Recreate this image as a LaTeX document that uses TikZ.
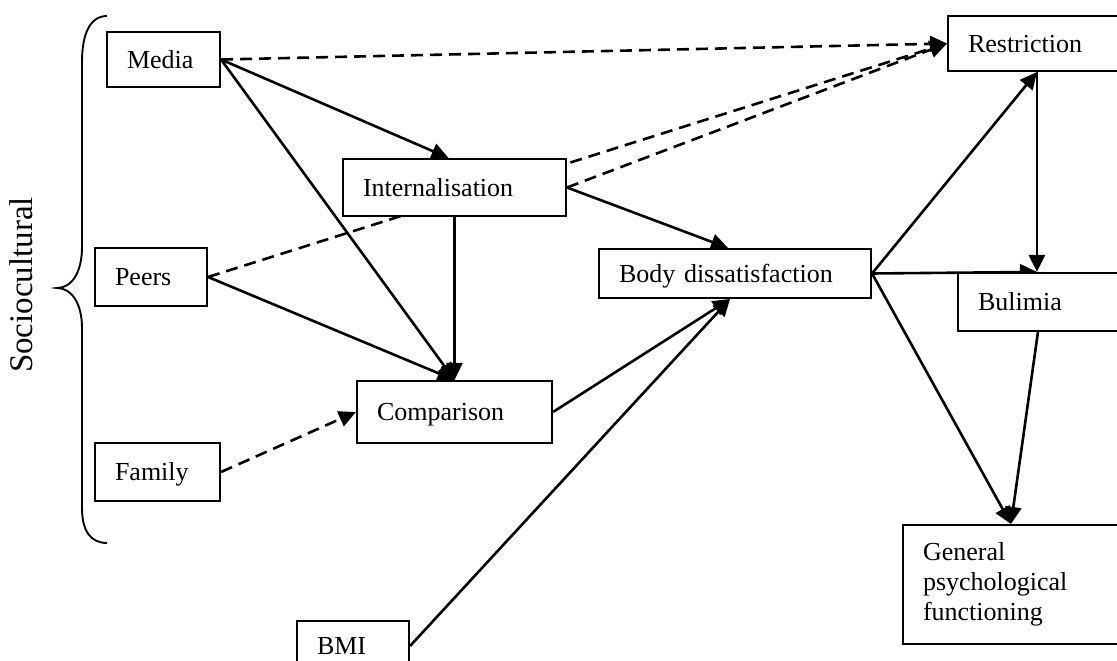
\documentclass[tikz,border=0pt]{standalone}
\usepackage{fontspec}
\setmainfont{Liberation Serif}
\usetikzlibrary{arrows.meta,backgrounds}
\begin{document}
\begin{tikzpicture}[x=1pt,y=-1pt,
  boxbase/.style={draw, line width=2.1pt, fill=white, rectangle, inner xsep=20pt, inner ysep=0pt, align=left, font=\fontsize{26}{30}\selectfont},
  box/.style={boxbase, text height=17.5pt, text depth=0pt},
  arr/.style={-{Triangle[length=17pt,width=16pt]}, line width=2.6pt},
  dsh/.style={arr, dash pattern=on 12pt off 7pt},
  brace/.style={line width=1.9pt}]
\useasboundingbox (0,0) rectangle (1117,661);
\clip (0,0) rectangle (1117,661);
% boxes
\node[box, minimum width=113pt, minimum height=55pt, text width=73pt] (media) at (163.5,59.5) {Media};
\node[box, minimum width=112pt, minimum height=58pt, text width=72pt] (peers) at (151,277) {Peers};
\node[box, minimum width=125pt, minimum height=58pt, text width=85pt] (family) at (157.5,472) {Family};
\node[box, minimum width=223pt, minimum height=57pt, text width=183pt] (intern) at (454.5,187.5) {Internalisation};
\node[box, minimum width=195pt, minimum height=62pt, text width=155pt] (compar) at (454.5,412) {Comparison};
\node[box, minimum width=272pt, minimum height=49pt, text width=232pt] (body) at (735,273.5) {Body dissatisfaction};
\node[box, minimum width=192pt, minimum height=55pt, text width=152pt] (restr) at (1044,43.5) {Restriction};
\node[box, minimum width=182pt, minimum height=58pt, text width=142pt] (bul) at (1049,302) {Bulimia};
\node[boxbase, minimum width=237pt, minimum height=119pt, text width=197pt] (gpf) at (1021.5,584.5) {General\\psychological\\functioning};
\node[box, minimum width=112pt, minimum height=50pt, text width=72pt] (bmi) at (353,646) {BMI};
% brace and label
\draw[brace] (107,16) .. controls (90,16) and (82,34) .. (82,62) -- (82,247)
  .. controls (82,272) and (72,288) .. (57,288)
  .. controls (72,288) and (82,304) .. (82,328) -- (82,508)
  .. controls (82,530) and (90,543) .. (107,543);
\node[rotate=90, font=\fontsize{33}{40}\selectfont, inner sep=0pt] (socio) at (21.5,285) {Sociocultural};
% connectors
\begin{pgfonlayer}{background}
\draw[dsh] (media.east) -- (restr.west);
\draw[dsh] (peers.east) -- (restr.west);
\draw[dsh] (intern.east) -- (restr.west);
\draw[dsh] (family.east) -- (compar.west);
\draw[arr] (media.east) -- ([xshift=-6pt]intern.north);
\draw[arr] (media.east) -- (compar.north);
\draw[arr] (peers.east) -- (compar.north);
\draw[arr] (intern.south) -- (compar.north);
\draw[arr] (intern.east) -- ([xshift=-7pt]body.north);
\draw[arr] (compar.east) -- ([xshift=-5pt]body.south);
\draw[arr] (bmi.east) -- ([xshift=-5pt]body.south);
\draw[arr] (body.east) -- ([xshift=90pt]restr.south west);
\draw[arr] (body.east) -- ([xshift=80pt]bul.north west);
\draw[arr] ([xshift=90pt]restr.south west) -- ([xshift=80pt]bul.north west);
\draw[arr] (body.east) -- ([xshift=109pt]gpf.north west);
\draw[arr] ([xshift=81pt]bul.south west) -- ([xshift=109pt]gpf.north west);
\end{pgfonlayer}
\end{tikzpicture}
\end{document}
